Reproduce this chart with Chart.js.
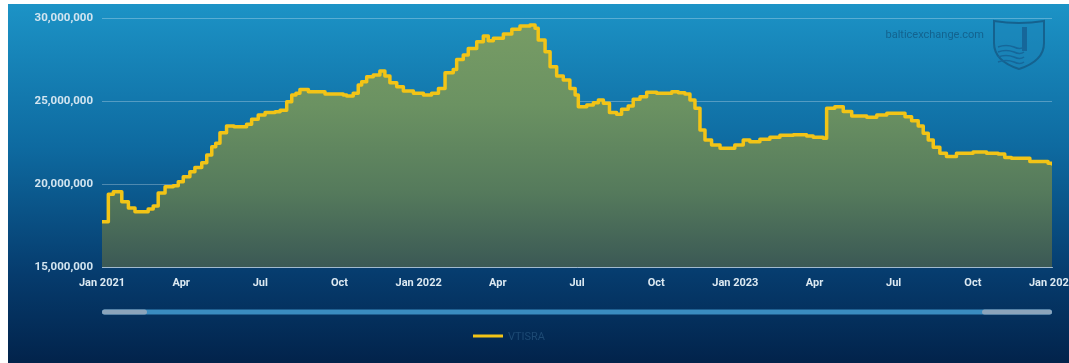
<!DOCTYPE html>
<html>
<head>
<meta charset="utf-8">
<script src="https://cdn.jsdelivr.net/npm/chart.js@4.4.1/dist/chart.umd.min.js"></script>
<style>
  html, body { margin: 0; padding: 0; background: #ffffff; }
  #wrap {
    position: absolute; left: 8px; top: 4px; width: 1061px; height: 359px;
    background: linear-gradient(to bottom, #1c93c6 0%, #0e6aa0 40%, #063c6e 75%, #02234b 100%);
  }
  canvas { display: block; }
</style>
</head>
<body>
<div id="wrap"><canvas id="chart" width="1061" height="359"></canvas></div>
<script>
// x positions in months since Jan 2021, value changes (step-before)
const months = [
  0, 0.24, 0.43, 0.75, 1.0, 1.25, 1.75, 1.94, 2.13, 2.39, 2.70, 2.89, 3.08, 3.33, 3.52, 3.78,
  3.97, 4.16, 4.31, 4.47, 4.72, 5.0, 5.48, 5.67, 5.92, 6.18, 6.56, 6.75, 7.0, 7.19, 7.35, 7.5,
  7.82, 8.45, 9.14, 9.27, 9.52, 9.71, 9.84, 10.03, 10.28, 10.53, 10.72, 10.91, 11.17, 11.42, 11.8, 12.18,
  12.49, 12.75, 13.0, 13.31, 13.44, 13.69, 13.88, 14.2, 14.45, 14.64, 14.83, 15.21, 15.53, 15.84,
  16.22, 16.41, 16.53, 16.79, 16.98, 17.23, 17.48, 17.73, 17.93, 18.05, 18.37, 18.62, 18.81, 19.0,
  19.23, 19.5, 19.69, 19.94, 20.13, 20.39, 20.64, 21.02, 21.59, 21.84, 22.09, 22.28, 22.47, 22.66,
  22.85, 23.1, 23.42, 23.98, 24.3, 24.55, 24.93, 25.31, 25.69, 26.2, 26.7, 26.95, 27.33, 27.46,
  27.77, 28.09, 28.41, 28.98, 29.36, 29.74, 30.43, 30.68, 30.93, 31.12, 31.31, 31.5, 31.75, 32.0,
  32.38, 33.01, 33.52, 33.96, 34.21, 34.46, 35.16, 35.85, 36.0
];
const vtisra = [
  17730000, 19380000, 19540000, 18930000, 18550000, 18330000, 18500000, 18670000, 19460000, 19840000, 19900000, 20140000, 20440000, 20740000, 21000000, 21280000,
  21750000, 22250000, 22450000, 23090000, 23500000, 23450000, 23600000, 23900000, 24160000, 24300000, 24350000, 24450000, 24960000, 25360000, 25460000, 25700000,
  25560000, 25420000, 25360000, 25300000, 25460000, 25960000, 26160000, 26460000, 26560000, 26800000, 26500000, 26100000, 25860000, 25600000, 25460000, 25360000,
  25460000, 25760000, 26700000, 26900000, 27500000, 27770000, 28170000, 28570000, 28920000, 28630000, 28780000, 29040000, 29320000, 29520000,
  29580000, 29380000, 28670000, 27970000, 27070000, 26500000, 26270000, 25760000, 25360000, 24660000, 24760000, 24900000, 25060000, 24860000,
  24300000, 24200000, 24500000, 24700000, 25100000, 25260000, 25520000, 25460000, 25560000, 25500000, 25420000, 25060000, 24560000, 23250000,
  22650000, 22350000, 22150000, 22350000, 22650000, 22550000, 22700000, 22810000, 22930000, 22970000, 22890000, 22810000, 22750000, 24560000,
  24660000, 24360000, 24100000, 24020000, 24160000, 24260000, 24050000, 23810000, 23490000, 23050000, 22650000, 22210000, 21850000, 21650000,
  21850000, 21930000, 21850000, 21810000, 21590000, 21550000, 21350000, 21250000, 21200000
];
const xTickLabels = ['Jan 2021', 'Apr', 'Jul', 'Oct', 'Jan 2022', 'Apr', 'Jul', 'Oct',
                     'Jan 2023', 'Apr', 'Jul', 'Oct', 'Jan 2024'];
const seriesName = 'VTISRA';

const FONT = 'Roboto, "Liberation Sans", sans-serif';

const points = months.map((m, i) => ({ x: m, y: vtisra[i] }));

// area fill gradient, anchored to the plot area
const fillGradient = (context) => {
  const { ctx, chartArea } = context.chart;
  if (!chartArea) return '#6c9262';
  const g = ctx.createLinearGradient(0, chartArea.top, 0, chartArea.bottom);
  g.addColorStop(0, '#789d65');
  g.addColorStop(0.35, '#6b9262');
  g.addColorStop(0.7, '#557a5c');
  g.addColorStop(1, '#3b5955');
  return g;
};

// legend, navigator bar and watermark drawn by hand
const decorations = {
  id: 'decorations',
  beforeDatasetsDraw(chart) {
    const { ctx } = chart;
    ctx.save();
    // watermark text
    ctx.font = '11px ' + FONT;
    ctx.fillStyle = '#13638f';
    ctx.textAlign = 'right';
    ctx.textBaseline = 'middle';
    ctx.fillText('balticexchange.com', 976, 31);
    // shield
    const sx = 986, sy = 15, sw = 50, sh = 50;
    ctx.beginPath();
    ctx.moveTo(sx, sy + 2);
    ctx.quadraticCurveTo(sx + sw / 2, sy + 6, sx + sw, sy + 2);
    ctx.lineTo(sx + sw, sy + 24);
    ctx.quadraticCurveTo(sx + sw, sy + sh - 8, sx + sw / 2, sy + sh);
    ctx.quadraticCurveTo(sx, sy + sh - 8, sx, sy + 24);
    ctx.closePath();
    ctx.fillStyle = 'rgba(30, 130, 180, 0.35)';
    ctx.fill();
    ctx.strokeStyle = '#15628f';
    ctx.lineWidth = 2;
    ctx.stroke();
    ctx.strokeStyle = '#16679a';
    ctx.lineWidth = 1.5;
    for (let i = 0; i < 4; i++) {
      const yy = sy + 28 + i * 5;
      ctx.beginPath();
      ctx.moveTo(sx + 4, yy);
      ctx.quadraticCurveTo(sx + 12, yy - 3, sx + 20, yy);
      ctx.quadraticCurveTo(sx + 26, yy + 3, sx + 30, yy);
      ctx.stroke();
    }
    ctx.fillStyle = '#16679a';
    ctx.fillRect(sx + 28, sy + 8, 5, 24);
    ctx.restore();
  },
  afterDraw(chart) {
    const { ctx, chartArea } = chart;
    ctx.save();
    // navigator scrollbar
    const barY = 308, barH = 5;
    const left = chartArea.left, right = chartArea.right;
    const round = (x0, x1, color) => {
      ctx.fillStyle = color;
      ctx.beginPath();
      ctx.roundRect(x0, barY - barH / 2, x1 - x0, barH, barH / 2);
      ctx.fill();
    };
    round(left, right, '#3a8cc0');
    round(left, left + 45, '#8ba4bb');
    round(right - 70, right, '#8ba4bb');
    // legend
    ctx.strokeStyle = '#f2c417';
    ctx.lineWidth = 3;
    ctx.beginPath();
    ctx.moveTo(465, 332);
    ctx.lineTo(495, 332);
    ctx.stroke();
    ctx.font = '11px ' + FONT;
    ctx.fillStyle = '#1d4a74';
    ctx.textAlign = 'left';
    ctx.textBaseline = 'middle';
    ctx.fillText(seriesName, 500, 333);
    ctx.restore();
  }
};

new Chart(document.getElementById('chart'), {
  type: 'line',
  data: {
    datasets: [{
      label: seriesName,
      data: points,
      stepped: true,
      borderColor: '#f2c417',
      borderWidth: 3.5,
      borderJoinStyle: 'round',
      borderCapStyle: 'round',
      pointRadius: 0,
      fill: 'start',
      backgroundColor: fillGradient,
    }],
  },
  options: {
    responsive: false,
    animation: false,
    layout: { padding: { left: 0, top: 14, right: 17, bottom: 0 } },
    plugins: {
      legend: { display: false },
      tooltip: { enabled: false },
    },
    scales: {
      x: {
        type: 'linear',
        min: 0,
        max: 36,
        grid: { display: false, drawTicks: false },
        border: { display: true, color: 'rgba(190, 210, 225, 0.75)', width: 1 },
        ticks: {
          stepSize: 3,
          padding: 10,
          maxRotation: 0,
          autoSkip: false,
          color: '#dce9f2',
          font: { family: FONT, size: 11, weight: 'bold' },
          callback: (v) => xTickLabels[Math.round(v / 3)] ?? '',
        },
        afterFit: (s) => {
          s.height = 96;
          s.paddingLeft = 0;
          s.paddingRight = 0;
        },
      },
      y: {
        min: 15000000,
        max: 30000000,
        z: 1,
        grid: { color: 'rgba(255, 255, 255, 0.28)', drawTicks: false, lineWidth: 1 },
        border: { display: false },
        ticks: {
          stepSize: 5000000,
          padding: 9,
          color: '#d3e5f0',
          font: { family: FONT, size: 11.5, weight: 'bold' },
          callback: (v) => v.toLocaleString('en-US'),
        },
        afterFit: (s) => {
          s.width = 94;
          s.paddingTop = 0;
          s.paddingBottom = 0;
        },
      },
    },
  },
  plugins: [decorations],
});
</script>
</body>
</html>
